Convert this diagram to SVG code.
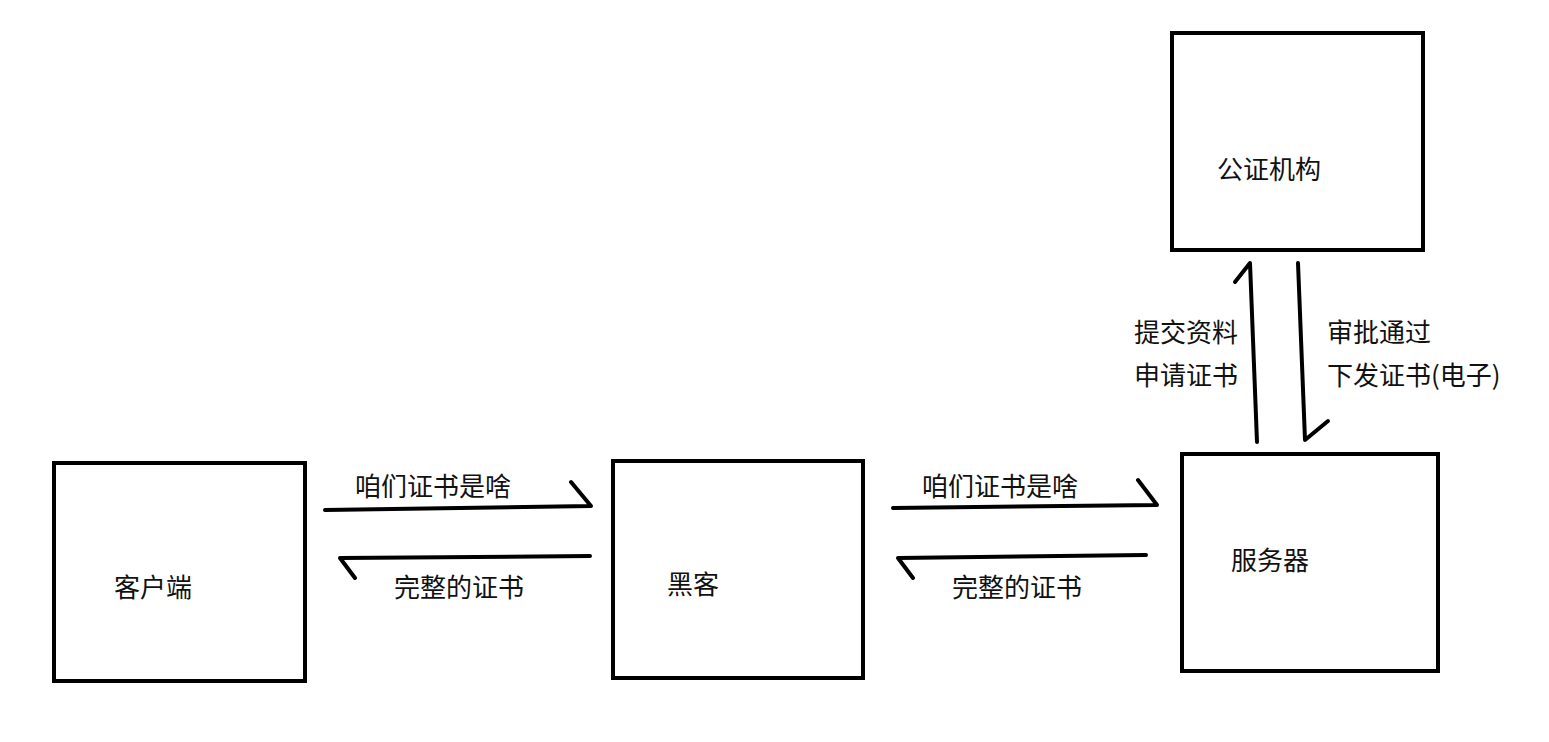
<svg xmlns="http://www.w3.org/2000/svg" width="1549" height="742" viewBox="0 0 1549 742">
<style>
.box{fill:#fff;stroke:#000;stroke-width:4}
.lbl{font-family:"Noto Sans CJK SC","Noto Sans",sans-serif;font-size:26px;fill:#111;dominant-baseline:central}
.ln{fill:none;stroke:#000;stroke-width:4;stroke-linecap:round;stroke-linejoin:round}
</style>
<rect width="1549" height="742" fill="#fff"/>
<g id="client"><rect class="box" x="54" y="463" width="251" height="218"/><text class="lbl" x="114" y="585">客户端</text></g>
<g id="hacker"><rect class="box" x="613" y="461" width="250" height="217"/><text class="lbl" x="667" y="582">黑客</text></g>
<g id="server"><rect class="box" x="1182" y="454" width="256" height="217"/><text class="lbl" x="1231" y="558">服务器</text></g>
<g id="ca"><rect class="box" x="1172" y="33" width="251" height="217"/><text class="lbl" x="1217" y="167">公证机构</text></g>
<g id="connectors">
<path class="ln" d="M325,510 L591,506 L571,482"/>
<path class="ln" d="M590,556 L340,558 L355,578"/>
<path class="ln" d="M893,508 L1157,505 L1138,480"/>
<path class="ln" d="M1146,555 L898,558 L913,578"/>
<path class="ln" d="M1257,442 L1250,263 L1235,282"/>
<path class="ln" d="M1298,263 L1305,440 L1328,421"/>
</g>
<g id="labels">
<text class="lbl" x="355" y="484">咱们证书是啥</text>
<text class="lbl" x="394" y="585">完整的证书</text>
<text class="lbl" x="922" y="484">咱们证书是啥</text>
<text class="lbl" x="952" y="585">完整的证书</text>
<text class="lbl" x="1134" y="330">提交资料</text>
<text class="lbl" x="1134" y="373">申请证书</text>
<text class="lbl" x="1327" y="330">审批通过</text>
<text class="lbl" x="1327" y="373">下发证书(电子)</text>
</g>
</svg>
